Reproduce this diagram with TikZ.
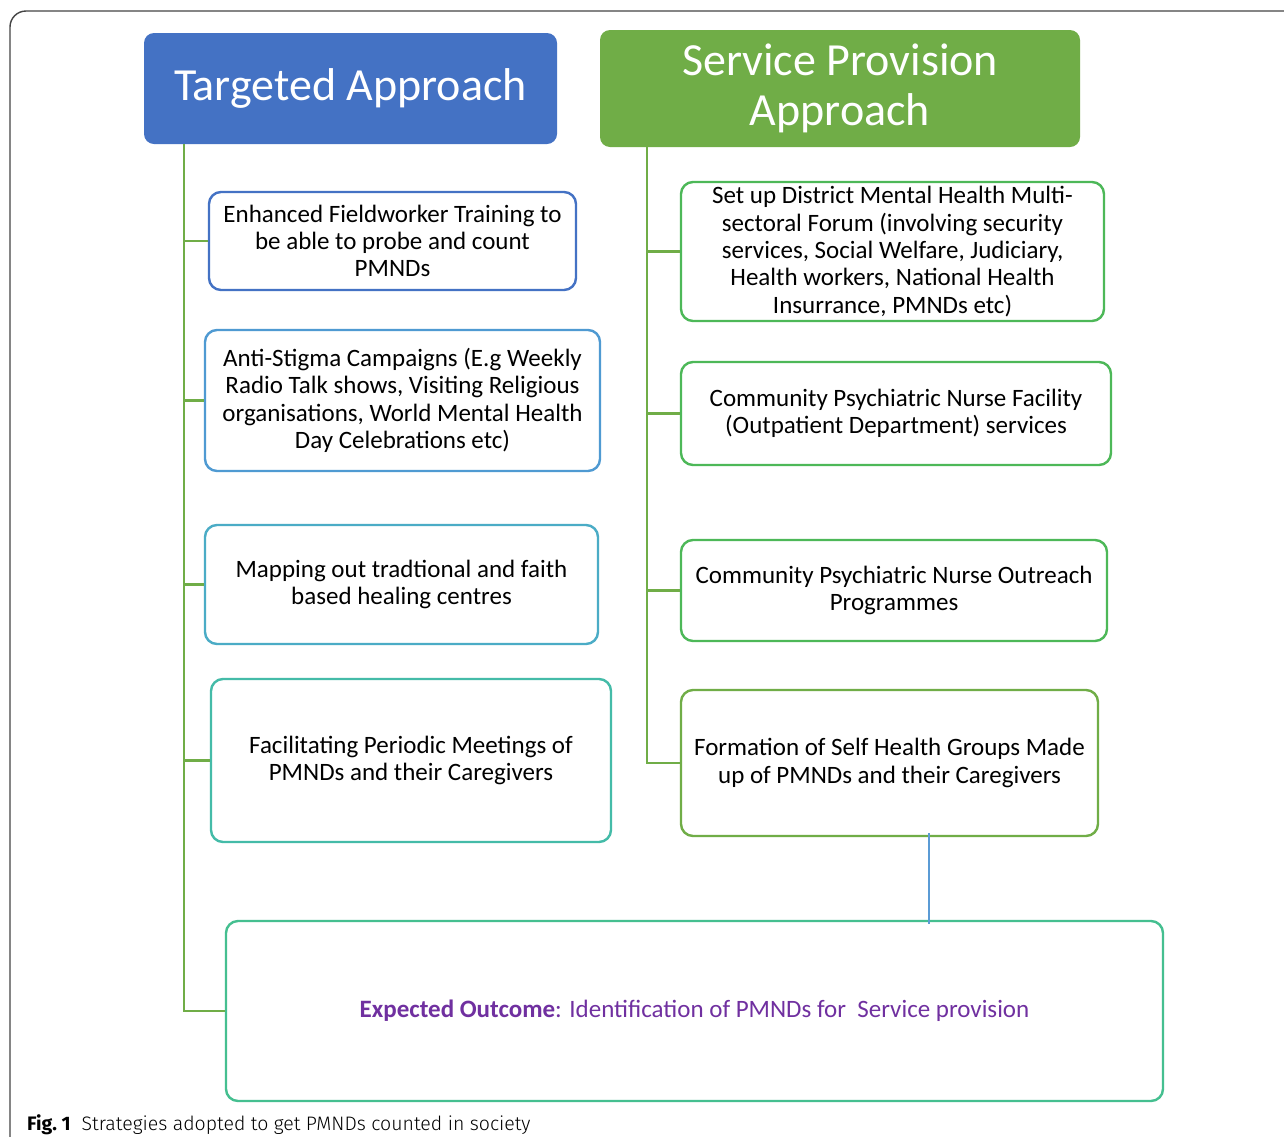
\documentclass[tikz,border=0pt]{standalone}
\usepackage{fontspec}
\setmainfont{Carlito}
\newfontfamily\capfont{Fira Sans}
\newfontfamily\capfontlight{Fira Sans Light}
\definecolor{hdrblue}{HTML}{4472C4}
\definecolor{hdrgreen}{HTML}{70AD47}
\definecolor{bordA}{HTML}{4472C4}
\definecolor{bordB}{HTML}{4F9AD2}
\definecolor{bordC}{HTML}{4BACC6}
\definecolor{bordD}{HTML}{44BBA8}
\definecolor{bordG}{HTML}{4DB858}
\definecolor{bordOut}{HTML}{45BF90}
\definecolor{linkblue}{HTML}{5B9BD5}
\definecolor{outpurple}{HTML}{7030A0}
\definecolor{framegray}{HTML}{444444}
\tikzset{
  header/.style={rounded corners=10pt, inner sep=0pt, align=center, text=white,
    font=\fontsize{46}{50}\selectfont},
  itembox/.style={rounded corners=12pt, draw, line width=2.4pt, fill=white, inner sep=0pt,
    align=center, text=black, font=\fontsize{25}{27.4}\selectfont},
  trunk/.style={draw=hdrgreen, line width=2.2pt},
  frame/.style={draw=framegray, line width=1.4pt, rounded corners=16pt},
}
\begin{document}
\begin{tikzpicture}[x=1pt,y=-1pt]
\useasboundingbox (0,0) rectangle (1284,1136);
\clip (0,0) rectangle (1284,1136);
\fill[white] (0,0) rectangle (1284,1136);
% outer frame
\draw[frame] (10,1160) -- (10,11) -- (1310,11);

% headers
\node[header, fill=hdrblue, minimum width=413pt, minimum height=111pt] (hdrL) at (350.5,88.5) {Targeted Approach};
\node[header, fill=hdrgreen, minimum width=480pt, minimum height=117pt] (hdrR) at (840,88.5) {Service Provision\\Approach};

% left boxes
\node[itembox, draw=bordA, minimum width=367pt, minimum height=98pt] (l1) at (392.5,241) {Enhanced Fieldworker Training to\\be able to probe and count\\PMNDs};
\node[itembox, draw=bordB, minimum width=395pt, minimum height=141pt] (l2) at (402.5,400.5) {Anti-Stigma Campaigns (E.g Weekly\\Radio Talk shows, Visiting Religious\\organisations, World Mental Health\\Day Celebrations etc)};
\node[itembox, draw=bordC, minimum width=393pt, minimum height=119pt] (l3) at (401.5,584.5) {Mapping out tradtional and faith\\based healing centres};
\node[itembox, draw=bordD, minimum width=400pt, minimum height=163pt] (l4) at (411,760.5) {Facilitating Periodic Meetings of\\PMNDs and their Caregivers};

% right boxes
\node[itembox, draw=bordG, minimum width=423pt, minimum height=139pt] (r1) at (892.5,251.5) {Set up District Mental Health Multi-\\sectoral Forum (involving security\\services, Social Welfare, Judiciary,\\Health workers, National Health\\Insurrance, PMNDs etc)};
\node[itembox, draw=bordG, minimum width=430pt, minimum height=103pt] (r2) at (896,413.5) {Community Psychiatric Nurse Facility\\(Outpatient Department) services};
\node[itembox, draw=bordG, minimum width=426pt, minimum height=101pt] (r3) at (894,590.5) {Community Psychiatric Nurse Outreach\\Programmes};
\node[itembox, draw=hdrgreen, minimum width=417pt, minimum height=146pt] (r4) at (889.5,763) {Formation of Self Health Groups Made\\up of PMNDs and their Caregivers};

% outcome box
\node[itembox, draw=bordOut, minimum width=937pt, minimum height=180pt, text=outpurple] (out) at (694.5,1011) {\textbf{Expected Outcome}: Identification of PMNDs for\ \ Service provision};

% trunk coordinates
\coordinate (tl) at (184,0);
\coordinate (tr) at (647,0);
\coordinate (bl) at (929,0);

% left trunk
\draw[trunk] (hdrL.south -| tl) |- (out.west);
\foreach \n in {l1,l2,l3,l4} \draw[trunk] (\n.west -| tl) -- (\n.west);
% right trunk
\draw[trunk] (hdrR.south -| tr) |- (r4.west);
\foreach \n in {r1,r2,r3} \draw[trunk] (\n.west -| tr) -- (\n.west);
% blue link
\draw[draw=linkblue, line width=2.2pt] ([yshift=4pt]r4.south -| bl) -- ([yshift=-4pt]out.north -| bl);

% caption
\node[anchor=base west, inner sep=0pt, font=\fontsize{19.5}{24}\selectfont] (cap) at (27,1130) {{\capfont\bfseries Fig.~1}\hspace{11pt}{\capfontlight Strategies adopted to get PMNDs counted in society}};
\end{tikzpicture}
\end{document}
